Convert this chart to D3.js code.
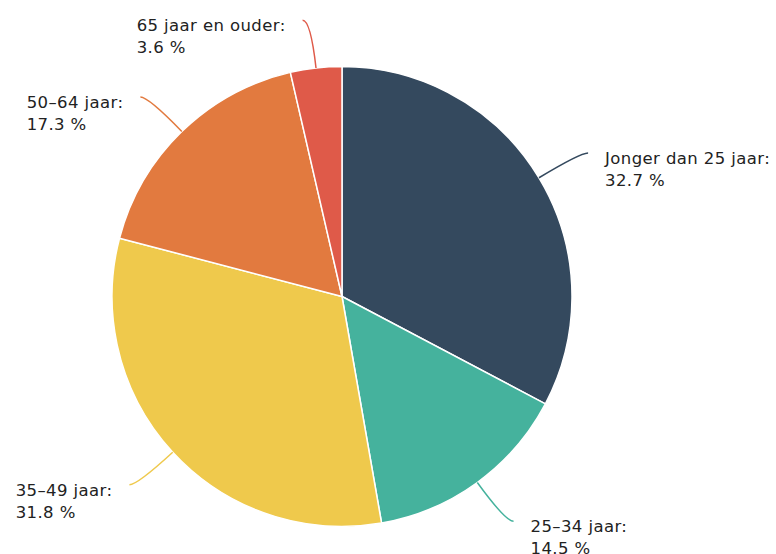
<!DOCTYPE html>
<html>
<head>
<meta charset="utf-8">
<script src="https://cdn.jsdelivr.net/npm/d3@7/dist/d3.min.js"></script>
<style>
  html, body { margin: 0; padding: 0; background: #fff; }
  svg { display: block; }
  text { font-family: "DejaVu Sans", sans-serif; font-size: 16.5px; letter-spacing: 0.4px; fill: #222; }
</style>
</head>
<body>
<svg id="chart" width="776" height="554"></svg>
<script>
const categories = ["Jonger dan 25 jaar", "25–34 jaar", "35–49 jaar", "50–64 jaar", "65 jaar en ouder"];
const values = [32.7, 14.5, 31.8, 17.3, 3.6];
const colors = ["#34495E", "#45B29D", "#EFC94C", "#E27A3F", "#DF5A49"];

const W = 776, H = 554;
const cx = 342, cy = 296.5, R = 230;
const svg = d3.select("#chart");
const g = svg.append("g").attr("transform", `translate(${cx},${cy})`);

const data = categories.map((c, i) => ({ name: c, value: values[i], color: colors[i] }));
const pie = d3.pie().value(d => d.value).sort(null);
const arcs = pie(data);
const arc = d3.arc().innerRadius(0).outerRadius(R);

g.selectAll("path.slice").data(arcs).enter().append("path")
  .attr("class", "slice")
  .attr("d", arc)
  .attr("fill", d => d.data.color)
  .attr("stroke", "#fff")
  .attr("stroke-width", 1.5)
  .attr("stroke-linejoin", "round");

const len1 = 48, len2 = 8, gap = 17, lineH = 22;
arcs.forEach(d => {
  const a = (d.startAngle + d.endAngle) / 2;
  const sx = Math.sin(a), sy = -Math.cos(a);
  const p0 = [R * sx, R * sy];
  const p1 = [(R + len1) * sx, (R + len1) * sy];
  const side = sx >= 0 ? 1 : -1;
  const p2 = [p1[0] + side * len2, p1[1]];
  g.append("path")
    .attr("d", `M${p0[0]},${p0[1]} Q${p1[0]},${p1[1]} ${p2[0]},${p2[1]}`)
    .attr("fill", "none")
    .attr("stroke", d.data.color)
    .attr("stroke-width", 1.5);
  const t = g.append("text").attr("y", p2[1] + 11);
  t.append("tspan").attr("x", 0).text(d.data.name + ":");
  t.append("tspan").attr("x", 0).attr("dy", lineH).text(d3.format(".1f")(d.data.value) + " %");
  const w = t.node().getBBox().width;
  const x0 = side > 0 ? p2[0] + gap : p2[0] - gap - w;
  t.selectAll("tspan").attr("x", x0);
});
</script>
</body>
</html>
